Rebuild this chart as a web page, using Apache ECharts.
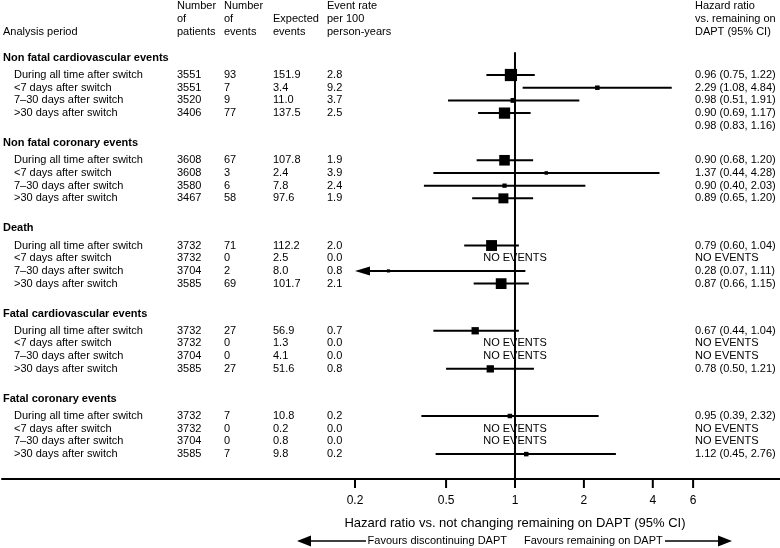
<!DOCTYPE html>
<html><head><meta charset="utf-8">
<script src="https://cdn.jsdelivr.net/npm/echarts@6/dist/echarts.min.js"></script>
<style>html,body{margin:0;padding:0;background:#fff}#c{width:780px;height:548px}</style>
</head><body><div id="c"></div>
<script>
// ---------- data ----------
const groups = ['Non fatal cardiovascular events', 'Non fatal coronary events', 'Death', 'Fatal cardiovascular events', 'Fatal coronary events'];
const periods = ['During all time after switch', '<7 days after switch', '7\u201330 days after switch', '>30 days after switch'];
const patients = [[3551,3551,3520,3406],[3608,3608,3580,3467],[3732,3732,3704,3585],[3732,3732,3704,3585],[3732,3732,3704,3585]];
const events = [[93,7,9,77],[67,3,6,58],[71,0,2,69],[27,0,0,27],[7,0,0,7]];
const expected = [[151.9,3.4,11.0,137.5],[107.8,2.4,7.8,97.6],[112.2,2.5,8.0,101.7],[56.9,1.3,4.1,51.6],[10.8,0.2,0.8,9.8]];
const rates = [[2.8,9.2,3.7,2.5],[1.9,3.9,2.4,1.9],[2.0,0.0,0.8,2.1],[0.7,0.0,0.0,0.8],[0.2,0.0,0.0,0.2]];
const hr = [[0.96,2.29,0.98,0.90],[0.90,1.37,0.90,0.89],[0.79,null,0.28,0.87],[0.67,null,null,0.78],[0.95,null,null,1.12]];
const ciLow = [[0.75,1.08,0.51,0.69],[0.68,0.44,0.40,0.65],[0.60,null,0.07,0.66],[0.44,null,null,0.50],[0.39,null,null,0.45]];
const ciHigh = [[1.22,4.84,1.91,1.17],[1.20,4.28,2.03,1.20],[1.04,null,1.11,1.15],[1.04,null,null,1.21],[2.32,null,null,2.76]];
const extraHRLabel = [0.98, 0.83, 1.16]; // extra line under first group
const tickValues = [0.2, 0.5, 1, 2, 4, 6];
const tickLabels = ['0.2', '0.5', '1', '2', '4', '6'];

// ---------- layout ----------
const FF = '"Liberation Sans", Arial, sans-serif';
const F11 = '11px ' + FF, F11B = 'bold 11px ' + FF;
const GROUP_STEP = 6.713, HEADER_OFF = -1.35;
const Y_MIN = -5.906, Y_MAX = 31.811, REF_TOP = -1.8;
const X_MIN = 0.00574, X_MAX = 14.38, CLIP_LO = 0.2;
const COL = {group: 3, label: 14, pat: 177, ev: 224, exp: 273, rate: 327, hr: 695};

const rowPos = (g, r) => g * GROUP_STEP + r;
const fmtHR = (h, l, u) => h.toFixed(2) + ' (' + l.toFixed(2) + ', ' + u.toFixed(2) + ')';

const tableRows = [];
groups.forEach((name, g) => {
  tableRows.push({pos: rowPos(g, HEADER_OFF), g: g, r: -1});
  periods.forEach((p, r) => tableRows.push({pos: rowPos(g, r), g: g, r: r}));
});
tableRows.push({pos: rowPos(0, 4), g: 0, r: 'extra'});

const forestRows = [];
groups.forEach((name, g) => periods.forEach((p, r) => {
  if (hr[g][r] != null) forestRows.push({pos: rowPos(g, r), hr: hr[g][r], lo: ciLow[g][r], hi: ciHigh[g][r], ev: events[g][r]});
}));
const noEventRows = [];
groups.forEach((name, g) => periods.forEach((p, r) => { if (hr[g][r] == null) noEventRows.push(rowPos(g, r)); }));

function txt(x, y, s, font, align) {
  return {type: 'text', x: x, y: y, style: {text: s, font: font || F11, fill: '#000', align: align || 'left', verticalAlign: 'middle'}};
}

function renderTable(params, api) {
  const t = tableRows[params.dataIndex];
  const y = api.coord([1, t.pos])[1];
  if (t.r === -1) return {type: 'group', children: [txt(COL.group, y, groups[t.g], F11B)]};
  if (t.r === 'extra') return {type: 'group', children: [txt(COL.hr, y, fmtHR(extraHRLabel[0], extraHRLabel[1], extraHRLabel[2]))]};
  const g = t.g, r = t.r;
  const hrText = hr[g][r] == null ? 'NO EVENTS' : fmtHR(hr[g][r], ciLow[g][r], ciHigh[g][r]);
  return {type: 'group', children: [
    txt(COL.label, y, periods[r]),
    txt(COL.pat, y, String(patients[g][r])),
    txt(COL.ev, y, String(events[g][r])),
    txt(COL.exp, y, expected[g][r].toFixed(1)),
    txt(COL.rate, y, rates[g][r].toFixed(1)),
    txt(COL.hr, y, hrText)
  ]};
}

function renderForest(params, api) {
  const f = forestRows[params.dataIndex];
  const c = api.coord([f.hr, f.pos]);
  const y = c[1];
  const clipped = f.lo < CLIP_LO;
  const loX = api.coord([clipped ? CLIP_LO : f.lo, f.pos])[0];
  const hiX = api.coord([f.hi, f.pos])[0];
  const s = 1.6 + 1.1 * Math.sqrt(f.ev);
  const ch = [{type: 'line', shape: {x1: clipped ? loX + 12 : loX, y1: y, x2: hiX, y2: y}, style: {stroke: '#000', lineWidth: 2}}];
  if (clipped) ch.push({type: 'polygon', shape: {points: [[loX, y], [loX + 15, y - 4.5], [loX + 15, y + 4.5]]}, style: {fill: '#000'}});
  ch.push({type: 'rect', shape: {x: c[0] - s / 2, y: y - s / 2, width: s, height: s}, style: {fill: '#000'}});
  return {type: 'group', children: ch};
}

function renderNoEvents(params, api) {
  const c = api.coord([1, noEventRows[params.dataIndex]]);
  return txt(c[0], c[1], 'NO EVENTS', F11, 'center');
}

function renderRef(params, api) {
  const a = api.coord([1, REF_TOP]), b = api.coord([1, Y_MAX]);
  return {type: 'line', shape: {x1: a[0], y1: a[1], x2: b[0], y2: b[1]}, style: {stroke: '#000', lineWidth: 2}};
}

function renderTicks(params, api) {
  const i = params.dataIndex;
  const p = api.coord([tickValues[i], Y_MAX]);
  return {type: 'group', children: [
    {type: 'line', shape: {x1: p[0], y1: p[1], x2: p[0], y2: p[1] + 9}, style: {stroke: '#000', lineWidth: 2}},
    txt(p[0], p[1] + 22, tickLabels[i], '12px ' + FF, 'center')
  ]};
}

function renderBottom(params, api) {
  const p = api.coord([1, Y_MAX]);
  const cx = p[0], y0 = p[1];
  const ya = y0 + 62;
  return {type: 'group', children: [
    txt(cx, y0 + 44, 'Hazard ratio vs. not changing remaining on DAPT (95% CI)', '13px ' + FF, 'center'),
    txt(cx - 8, ya, 'Favours discontinuing DAPT', F11, 'right'),
    txt(cx + 9, ya, 'Favours remaining on DAPT', F11, 'left'),
    {type: 'line', shape: {x1: cx - 205, y1: ya, x2: cx - 149, y2: ya}, style: {stroke: '#000', lineWidth: 1.5}},
    {type: 'polygon', shape: {points: [[cx - 218, ya], [cx - 204, ya - 5.5], [cx - 204, ya + 5.5]]}, style: {fill: '#000'}},
    {type: 'line', shape: {x1: cx + 150, y1: ya, x2: cx + 204, y2: ya}, style: {stroke: '#000', lineWidth: 1.5}},
    {type: 'polygon', shape: {points: [[cx + 217, ya], [cx + 203, ya - 5.5], [cx + 203, ya + 5.5]]}, style: {fill: '#000'}}
  ]};
}

const headers = [
  [COL.group, ['', '', 'Analysis period']],
  [COL.pat, ['Number', 'of', 'patients']],
  [COL.ev, ['Number', 'of', 'events']],
  [COL.exp, ['', 'Expected', 'events']],
  [COL.rate, ['Event rate', 'per 100', 'person-years']],
  [COL.hr, ['Hazard ratio', 'vs. remaining on', 'DAPT (95% CI)']]
];
const headerY = [6, 19, 32];
const graphics = [];
headers.forEach(h => h[1].forEach((s, k) => { if (s) graphics.push(txt(h[0], headerY[k], s)); }));

const chart = echarts.init(document.getElementById('c'), null, {renderer: 'canvas'});
chart.setOption({
  animation: false,
  backgroundColor: '#fff',
  grid: {left: 2, right: 0, top: 0, bottom: 69},
  xAxis: {type: 'log', min: X_MIN, max: X_MAX, logBase: 10, position: 'bottom',
    axisLine: {show: true, onZero: false, lineStyle: {color: '#000', width: 2}},
    axisTick: {show: false}, axisLabel: {show: false}, splitLine: {show: false}},
  yAxis: {type: 'value', inverse: true, min: Y_MIN, max: Y_MAX, show: false, splitLine: {show: false}},
  graphic: graphics,
  series: [
    {type: 'custom', name: 'ref', clip: false, renderItem: renderRef, data: [[1, Y_MAX]], silent: true},
    {type: 'custom', name: 'table', clip: false, renderItem: renderTable, data: tableRows.map(t => [1, t.pos]), silent: true},
    {type: 'custom', name: 'forest', clip: false, renderItem: renderForest, data: forestRows.map(f => [f.hr, f.pos]), silent: true},
    {type: 'custom', name: 'noevents', clip: false, renderItem: renderNoEvents, data: noEventRows.map(p => [1, p]), silent: true},
    {type: 'custom', name: 'ticks', clip: false, renderItem: renderTicks, data: tickValues.map(v => [v, Y_MAX]), silent: true},
    {type: 'custom', name: 'bottom', clip: false, renderItem: renderBottom, data: [[1, Y_MAX]], silent: true}
  ]
});
</script></body></html>
